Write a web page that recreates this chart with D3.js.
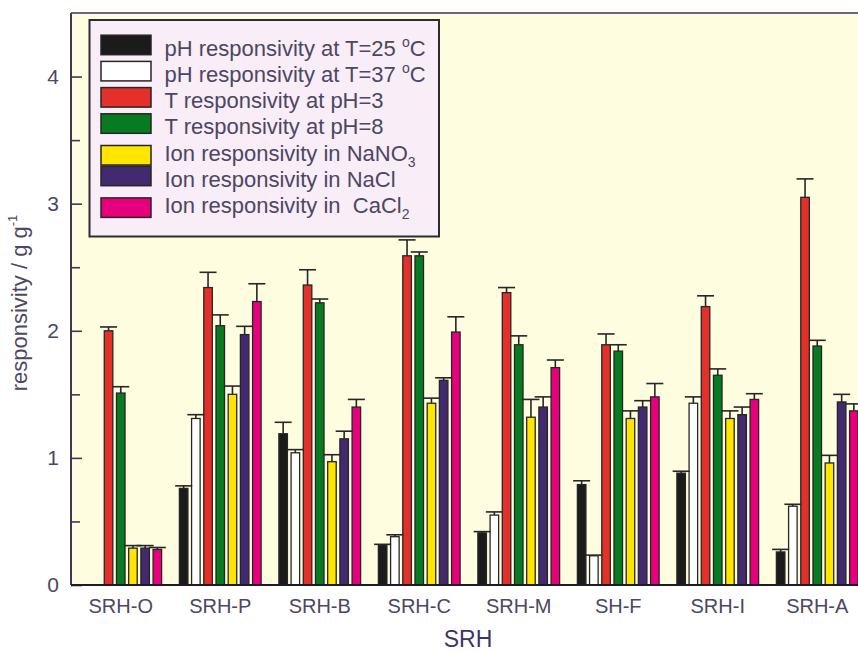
<!DOCTYPE html>
<html>
<head>
<meta charset="utf-8">
<script src="https://cdn.jsdelivr.net/npm/d3@7"></script>
<style>
  html, body { margin: 0; padding: 0; background: #ffffff; }
  svg { display: block; }
  text { font-family: "Liberation Sans", Arial, Helvetica, sans-serif; white-space: pre; }
</style>
</head>
<body>
<svg id="chart" width="858" height="652"></svg>
<script>
// Hydrogel samples along the x axis
const samples = ["SRH-O", "SRH-P", "SRH-B", "SRH-C", "SRH-M", "SH-F", "SRH-I", "SRH-A"];

// Series keys, legend labels (^x = superscript, _x = subscript) and fills
const seriesKeys = ["pH25", "pH37", "TpH3", "TpH8", "NaNO3", "NaCl", "CaCl2"];
const seriesLabels = [
  "pH responsivity at T=25 ^oC",
  "pH responsivity at T=37 ^oC",
  "T responsivity at pH=3",
  "T responsivity at pH=8",
  "Ion responsivity in NaNO_3",
  "Ion responsivity in NaCl",
  "Ion responsivity in  CaCl_2"
];
const seriesColors = ["#1b1b1b", "#ffffff", "#e4302a", "#087a22", "#ffe500", "#432a70", "#e6007c"];

// Responsivity (g/g) per sample, one array per series (null = not measured)
const pH25  = [null, 0.76, 1.19, 0.31, 0.41, 0.79, 0.88, 0.26];
const pH37  = [null, 1.31, 1.04, 0.38, 0.55, 0.23, 1.43, 0.62];
const TpH3  = [2.00, 2.34, 2.36, 2.59, 2.30, 1.89, 2.19, 3.05];
const TpH8  = [1.51, 2.04, 2.22, 2.59, 1.89, 1.84, 1.65, 1.88];
const NaNO3 = [0.29, 1.50, 0.97, 1.43, 1.32, 1.31, 1.31, 0.96];
const NaCl  = [0.29, 1.97, 1.15, 1.61, 1.40, 1.40, 1.34, 1.44];
const CaCl2 = [0.28, 2.23, 1.40, 1.99, 1.71, 1.48, 1.46, 1.37];

// Standard deviations (upper error bars)
const pH25Err  = [null, 0.02, 0.09, 0.01, 0.01, 0.03, 0.015, 0.02];
const pH37Err  = [null, 0.03, 0.025, 0.015, 0.025, 0.005, 0.05, 0.015];
const TpH3Err  = [0.03, 0.12, 0.12, 0.125, 0.04, 0.085, 0.085, 0.145];
const TpH8Err  = [0.05, 0.085, 0.03, 0.03, 0.07, 0.05, 0.05, 0.045];
const NaNO3Err = [0.02, 0.065, 0.055, 0.04, 0.14, 0.06, 0.06, 0.06];
const NaClErr  = [0.02, 0.065, 0.06, 0.02, 0.08, 0.05, 0.06, 0.06];
const CaCl2Err = [0.015, 0.14, 0.06, 0.12, 0.06, 0.105, 0.045, 0.055];

// Axis ticks
const yMajorTicks = [0, 1, 2, 3, 4];
const yMinorTicks = [0.5, 1.5, 2.5, 3.5];
const yAxisTitle = "responsivity / g g";
const yAxisTitleSup = "-1";
const xAxisTitle = "SRH";

const seriesValues = [pH25, pH37, TpH3, TpH8, NaNO3, NaCl, CaCl2];
const seriesErrors = [pH25Err, pH37Err, TpH3Err, TpH8Err, NaNO3Err, NaClErr, CaCl2Err];

const rows = [];
samples.forEach((s, i) => {
  seriesKeys.forEach((k, j) => {
    const v = seriesValues[j][i];
    if (v != null) rows.push({ sample: s, key: k, idx: j, value: v, err: seriesErrors[j][i] || 0 });
  });
});

// Layout
const svg = d3.select("#chart");
const plot = { left: 71, top: 13, bottom: 585, right: 71 + 99.5 * samples.length };

const x0 = d3.scaleBand().domain(samples).range([plot.left, plot.right]).paddingInner(0).paddingOuter(0);
const x1 = d3.scaleBand().domain(seriesKeys).range([0, x0.bandwidth()]).paddingInner(0.3).paddingOuter(0.728);
const y = d3.scaleLinear().domain([0, 4.5]).range([plot.bottom, plot.top]);

const axisColor = "#3f3852";
const textColor = "#4c4763";

// Plot background
svg.append("rect")
  .attr("x", plot.left).attr("y", plot.top)
  .attr("width", plot.right - plot.left).attr("height", plot.bottom - plot.top)
  .attr("fill", "#fffde0");

// Top frame line
svg.append("line")
  .attr("x1", plot.left).attr("x2", plot.right)
  .attr("y1", plot.top).attr("y2", plot.top)
  .attr("stroke", "#6e6680").attr("stroke-width", 2);

// Bars
const bars = svg.append("g");
bars.selectAll("rect").data(rows).join("rect")
  .attr("x", d => x0(d.sample) + x1(d.key))
  .attr("y", d => y(d.value))
  .attr("width", x1.bandwidth())
  .attr("height", d => y(0) - y(d.value))
  .attr("fill", d => seriesColors[d.idx])
  .attr("stroke", "#262626")
  .attr("stroke-width", 1.3);

// Upper error bars
const capHalf = 8.5;
const errs = svg.append("g").attr("stroke", "#262626").attr("stroke-width", 1.6);
errs.selectAll("line.stem").data(rows).join("line").attr("class", "stem")
  .attr("x1", d => x0(d.sample) + x1(d.key) + x1.bandwidth() / 2)
  .attr("x2", d => x0(d.sample) + x1(d.key) + x1.bandwidth() / 2)
  .attr("y1", d => y(d.value))
  .attr("y2", d => y(d.value + d.err));
errs.selectAll("line.cap").data(rows).join("line").attr("class", "cap")
  .attr("x1", d => x0(d.sample) + x1(d.key) + x1.bandwidth() / 2 - capHalf)
  .attr("x2", d => x0(d.sample) + x1(d.key) + x1.bandwidth() / 2 + capHalf)
  .attr("y1", d => y(d.value + d.err))
  .attr("y2", d => y(d.value + d.err));

// Y axis: inward major and minor ticks
const yAxis = svg.append("g")
  .attr("transform", `translate(${plot.left},0)`)
  .call(d3.axisLeft(y).tickValues(yMajorTicks).tickSize(-11).tickPadding(12).tickFormat(d3.format("d")));
svg.append("g")
  .attr("transform", `translate(${plot.left},0)`)
  .call(d3.axisLeft(y).tickValues(yMinorTicks).tickSize(-9).tickFormat(""))
  .call(g => g.select(".domain").remove());
svg.selectAll(".tick line").attr("stroke", axisColor).attr("stroke-width", 1.6);
yAxis.select(".domain").attr("stroke", axisColor).attr("stroke-width", 2)
  .attr("d", `M0,${plot.top}V${plot.bottom}`);
yAxis.selectAll(".tick text")
  .attr("fill", textColor).attr("font-size", 21)
  .attr("font-family", "'Liberation Sans', Arial, sans-serif");

// X axis: category labels, no ticks
const xAxis = svg.append("g")
  .attr("transform", `translate(0,${plot.bottom})`)
  .call(d3.axisBottom(x0).tickSize(0).tickPadding(14));
xAxis.select(".domain").attr("stroke", "#1e1a26").attr("stroke-width", 2.2)
  .attr("d", `M${plot.left},0H${plot.right}`);
xAxis.selectAll(".tick text")
  .attr("fill", textColor).attr("font-size", 20)
  .attr("font-family", "'Liberation Sans', Arial, sans-serif");

// Axis titles
svg.append("text")
  .attr("x", (plot.left + plot.right) / 2 - 1).attr("y", 647)
  .attr("text-anchor", "middle")
  .attr("font-size", 23).attr("fill", "#3b3569")
  .text(xAxisTitle);

const yt = svg.append("text")
  .attr("transform", `translate(27,${(plot.top + plot.bottom) / 2 + 4}) rotate(-90)`)
  .attr("text-anchor", "middle")
  .attr("font-size", 22).attr("fill", textColor);
yt.append("tspan").text(yAxisTitle);
yt.append("tspan").attr("font-size", 13).attr("dy", -10).text(yAxisTitleSup);

// Legend
const legend = svg.append("g");
legend.append("rect")
  .attr("x", 89.5).attr("y", 20).attr("width", 349.5).attr("height", 216.5)
  .attr("fill", "#f9edf7").attr("stroke", "#2e2a33").attr("stroke-width", 2);

const rowGap = 26.2, firstBase = 55.7;
seriesLabels.forEach((label, i) => {
  const base = firstBase + i * rowGap;
  const hasSub = label.includes("_");
  legend.append("rect")
    .attr("x", 101).attr("y", base - 20.5 + (hasSub ? 5.5 : 0))
    .attr("width", 50).attr("height", 19.5)
    .attr("fill", seriesColors[i]).attr("stroke", "#262626").attr("stroke-width", 1.5);

  const t = legend.append("text")
    .attr("x", 164.5).attr("y", base)
    .attr("font-size", 22).attr("fill", textColor);
  // split into plain, superscript and subscript pieces
  const parts = label.split(/([\^_].)/).filter(p => p.length);
  let shift = 0;
  parts.forEach(p => {
    if (p[0] === "^" || p[0] === "_") {
      const dy = p[0] === "^" ? -9 : 6;
      t.append("tspan").attr("font-size", 14).attr("dy", dy - shift).text(p[1]);
      shift = dy;
    } else {
      t.append("tspan").attr("dy", -shift).text(p);
      shift = 0;
    }
  });
});
</script>
</body>
</html>
